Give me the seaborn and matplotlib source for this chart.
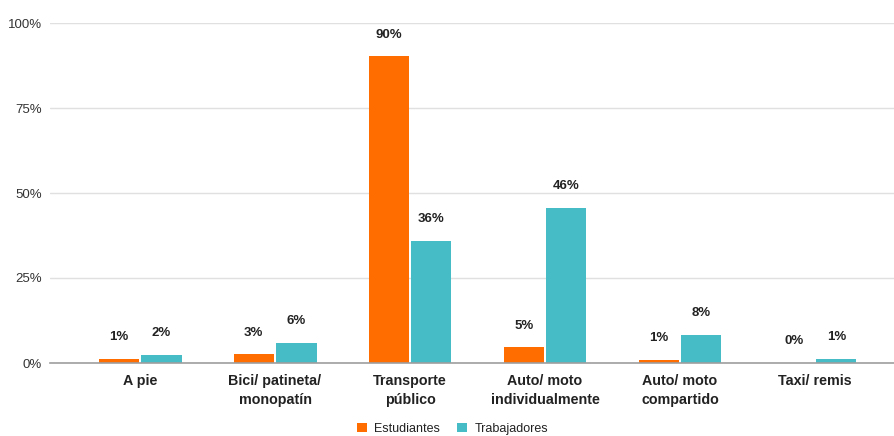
import matplotlib
matplotlib.use("Agg")
import matplotlib.pyplot as plt
import seaborn as sns
import pandas as pd

categories = ["A pie", "Bici/ patineta/\nmonopatín", "Transporte\npúblico",
              "Auto/ moto\nindividualmente", "Auto/ moto\ncompartido", "Taxi/ remis"]
series_names = ["Estudiantes", "Trabajadores"]
estudiantes = [1.2, 2.6, 90.2, 4.6, 0.9, 0.0]
trabajadores = [2.4, 6.0, 36.0, 45.7, 8.3, 1.2]
yticks = [0, 25, 50, 75, 100]
colors = ["#FF6D01", "#46BDC6"]

sns.set_theme(style="white")
plt.rcParams['font.family'] = ['Liberation Sans', 'DejaVu Sans']

df = pd.DataFrame({
    "cat": categories * 2,
    "serie": [series_names[0]] * len(categories) + [series_names[1]] * len(categories),
    "val": estudiantes + trabajadores,
})

fig = plt.figure(figsize=(8.94, 4.36), dpi=100)
ax = fig.add_axes([50 / 894, 1 - 363 / 436, 844 / 894, 340 / 436])
sns.barplot(data=df, x="cat", y="val", hue="serie", palette=colors, width=0.63,
            gap=0.05, ax=ax, order=categories, hue_order=series_names,
            linewidth=0, saturation=1, legend=True)

ax.set_ylim(0, 100)
ax.set_xlim(-0.667, 5.585)
ax.set_yticks(yticks)
ax.set_yticklabels([f"{t}%" for t in yticks], fontsize=9.5, color="#333333")
ax.grid(axis="y", color="#e0e0e0", linewidth=1)
ax.set_axisbelow(True)
for s in ["top", "right", "left"]:
    ax.spines[s].set_visible(False)
ax.spines["bottom"].set_color("#9e9e9e")
ax.spines["bottom"].set_linewidth(1.2)
ax.tick_params(axis="both", length=0, pad=6)
ax.set_xticks(range(len(categories)))
ax.set_xticklabels(categories, fontsize=10.3, fontweight="bold", color="#222222",
                   linespacing=1.4)
ax.tick_params(axis="x", pad=8)
ax.set_xlabel("")
ax.set_ylabel("")

for container in ax.containers:
    for bar in container:
        h = bar.get_height()
        ax.annotate(f"{round(h):.0f}%", (bar.get_x() + bar.get_width() / 2, h),
                    xytext=(0, 15.5), textcoords="offset points", ha="center",
                    va="center", fontsize=9.5, fontweight="bold", color="#222222")

leg = ax.legend(loc="lower center", bbox_to_anchor=(0.477, -0.245), ncol=2, frameon=False,
                fontsize=9, handlelength=0.8, handleheight=0.8, handletextpad=0.6,
                columnspacing=1.4)
for t in leg.get_texts():
    t.set_color("#222222")

fig.savefig("out.png", dpi=100)
